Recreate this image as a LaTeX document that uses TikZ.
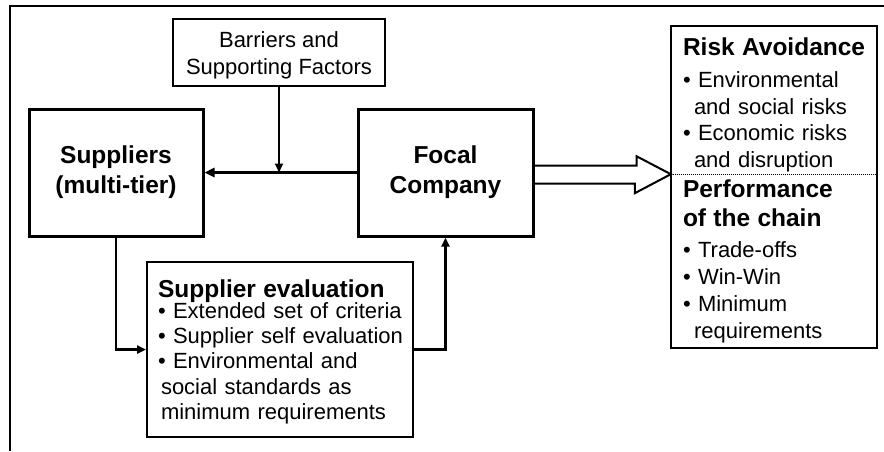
\documentclass[tikz,border=0pt]{standalone}
\usepackage{fontspec}
\setmainfont{Liberation Sans}
\usetikzlibrary{arrows.meta}
\newcommand{\hd}[1]{{\bfseries\fontsize{24.5}{26}\selectfont #1}}
\begin{document}
\begin{tikzpicture}[x=1pt,y=-1pt]
\tikzstyle{mb} = [draw=black,line width=3pt,minimum width=174pt,minimum height=127pt,align=center,font=\bfseries\fontsize{24.5}{30}\selectfont] %main box
\tikzstyle{sb} = [draw=black,line width=2.5pt,minimum width=212pt,minimum height=67pt,align=center,font=\fontsize{22}{27}\selectfont] %small box
\tikzstyle{lb} = [draw=black,line width=2pt,inner xsep=11pt,text width=244pt,minimum height=175pt,align=left,font=\fontsize{22}{25.4}\selectfont] %list box
\tikzstyle{tb} = [inner xsep=12pt,inner ysep=0pt,text width=182pt,align=left,font=\fontsize{22}{26.5}\selectfont] %text block
\tikzstyle{ar} = [-{Triangle[length=9pt,width=8pt]},line width=2pt] %arrow
\tikzstyle{tar} = [-{Triangle[length=10pt,width=9pt]},line width=3pt] %thick arrow
\tikzstyle{ha} = [draw=black,line width=2pt,line join=miter] %hollow arrow
\useasboundingbox (0,0) rectangle (884,451);
\draw[line width=2pt] (10,451) -- (10,6) -- (884,6);
\node[sb](bar)at(279,52.5){\rule{0pt}{22pt}Barriers and\\Supporting Factors};
\node[mb](sup)at(116,172.5){Suppliers\\(multi-tier)};
\node[mb,minimum width=175pt](foc)at(445.5,172.5){Focal\\Company};
\node[lb](eval)at(280,349.5){\rule{0pt}{23pt}\hd{Supplier evaluation}\\[-5pt]
•~Extended set of criteria\\
\mbox{•~Supplier self evaluation}\\
•~Environmental and\\
\hspace*{3pt}social standards as\\
\hspace*{3pt}minimum requirements};
\node[tb,minimum height=148pt](risk)at(774,100){\rule{0pt}{27pt}\hd{\mbox{Risk Avoidance}}\\[6pt]
•~Environmental\\
\hspace*{11pt}and social risks\\
•~Economic risks\\
\hspace*{11pt}and disruption};
\node[tb,minimum height=174pt,font=\fontsize{22}{27}\selectfont](perf)at(774,261){\hd{Performance}\\[2pt]
\hd{of the chain}\\[4pt]
•~Trade-offs\\
•~Win-Win\\
•~Minimum\\
\hspace*{11pt}requirements};
\draw[line width=2pt] (risk.north west) rectangle (perf.south east);
\draw[line width=1pt,densely dotted] (risk.south west) -- (risk.south east);
\draw[tar](foc.west)--(sup.east);
\draw[ar](bar.south)--(bar.south |- sup.east);
\draw[ar,line width=2.5pt](sup.south)|-(eval.west);
\draw[ar,line width=2.5pt](eval.east)-|(foc.south);
\draw[ha](foc.east |- risk.south west) ++(0,-8.5) -- ++(102,0) -- ++(0,-9.5) -- (risk.south west)
  -- ++(-36,19) -- ++(0,-9.5) -- ++(-102,0);
\end{tikzpicture}
\end{document}
